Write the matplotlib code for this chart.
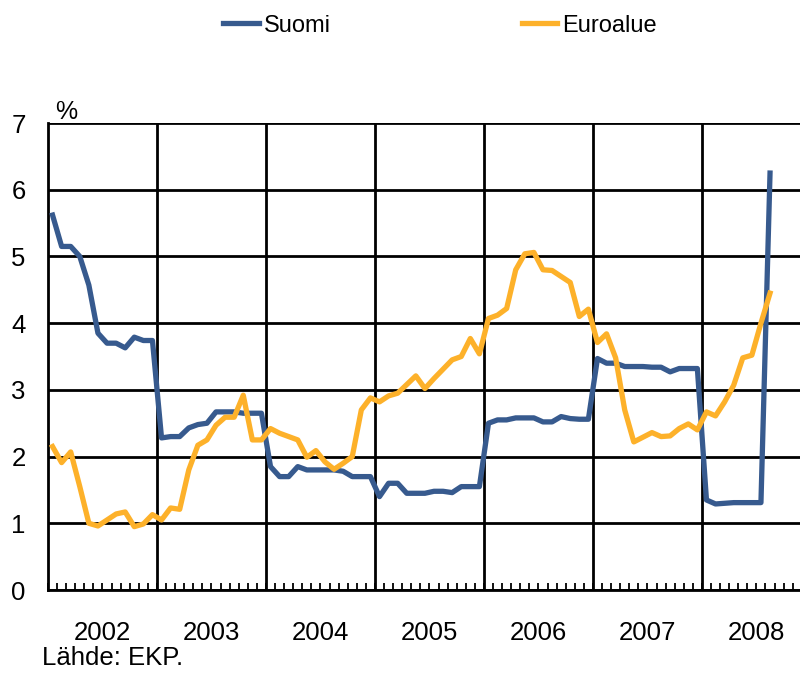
import numpy as np
import matplotlib
matplotlib.use("Agg")
import matplotlib.pyplot as plt

plt.rcParams['font.family'] = ['Liberation Sans', 'DejaVu Sans']

# monthly values, Jan 2002 - Aug 2008
suomi = [5.62, 5.15, 5.15, 5.00, 4.57, 3.85, 3.70, 3.70, 3.63, 3.79, 3.74, 3.74,
         2.28, 2.30, 2.30, 2.43, 2.48, 2.50, 2.67, 2.67, 2.67, 2.65, 2.65, 2.65,
         1.85, 1.70, 1.70, 1.85, 1.80, 1.80, 1.80, 1.80, 1.78, 1.70, 1.70, 1.70,
         1.40, 1.60, 1.60, 1.45, 1.45, 1.45, 1.48, 1.48, 1.46, 1.55, 1.55, 1.55,
         2.50, 2.55, 2.55, 2.58, 2.58, 2.58, 2.52, 2.52, 2.60, 2.57, 2.56, 2.56,
         3.47, 3.40, 3.40, 3.35, 3.35, 3.35, 3.34, 3.34, 3.27, 3.32, 3.32, 3.32,
         1.35, 1.29, 1.30, 1.31, 1.31, 1.31, 1.31, 6.25]
euroalue = [2.15, 1.91, 2.07, 1.55, 1.00, 0.96, 1.05, 1.14, 1.17, 0.95, 0.99, 1.13,
            1.05, 1.23, 1.21, 1.80, 2.17, 2.25, 2.47, 2.59, 2.59, 2.92, 2.25, 2.25,
            2.42, 2.35, 2.30, 2.25, 1.99, 2.09, 1.92, 1.81, 1.90, 2.00, 2.70, 2.88,
            2.82, 2.91, 2.95, 3.08, 3.21, 3.02, 3.17, 3.31, 3.45, 3.50, 3.77, 3.54,
            4.07, 4.12, 4.22, 4.80, 5.04, 5.06, 4.80, 4.79, 4.70, 4.61, 4.10, 4.21,
            3.71, 3.84, 3.48, 2.70, 2.22, 2.29, 2.36, 2.30, 2.31, 2.42, 2.49, 2.40,
            2.67, 2.61, 2.82, 3.07, 3.48, 3.52, 4.00, 4.45]
years = [2002, 2003, 2004, 2005, 2006, 2007, 2008]
start_year = 2002

# month midpoints as fractional years
x = start_year + (np.arange(len(suomi)) + 0.5) / 12

fig = plt.figure(figsize=(8, 6.73), dpi=100)
ax = fig.add_axes([0.06, 0.1233, 0.94, 0.6939])

# grid
for y in range(0, 8):
    ax.axhline(y, color='black', lw=2.0, zorder=1)
for yr in years[1:]:
    ax.axvline(yr, color='black', lw=2.0, zorder=1)

ax.plot(x, suomi, color='#375A8E', lw=3.8, label='Suomi', zorder=3)
ax.plot(x, euroalue, color='#FDB12A', lw=3.8, label='Euroalue', zorder=3)

ax.set_xlim(2002, 2008.9)
ax.set_ylim(0, 7)

ax.set_yticks(range(0, 8))
ax.tick_params(axis='y', length=0, pad=16, labelsize=18.5)

# month ticks as major (no labels), year labels as minor ticks at mid-year
ax.xaxis.remove_overlapping_locs = False
ax.set_xticks(start_year + np.arange(0, 83) / 12)
ax.set_xticklabels([])
ax.set_xticks([yr + 0.5 for yr in years], [str(yr) for yr in years], minor=True)
ax.tick_params(axis='x', which='minor', length=0, pad=22, labelsize=18.5)
ax.tick_params(axis='x', which='major', direction='in', length=5, width=1.3)

for side in ['top', 'right']:
    ax.spines[side].set_visible(False)
ax.spines['left'].set_linewidth(2.0)
ax.spines['bottom'].set_linewidth(2.0)

fig.text(0.069, 0.823, '%', fontsize=18)
fig.text(0.052, 0.005, 'Lähde: EKP.', fontsize=18.5, va='bottom')

fig.legend(loc='upper center', bbox_to_anchor=(0.55, 1.01), ncol=2, frameon=False,
           fontsize=17, handlelength=1.5, handletextpad=0.2, columnspacing=8.1)

fig.savefig('out.png', dpi=100)
